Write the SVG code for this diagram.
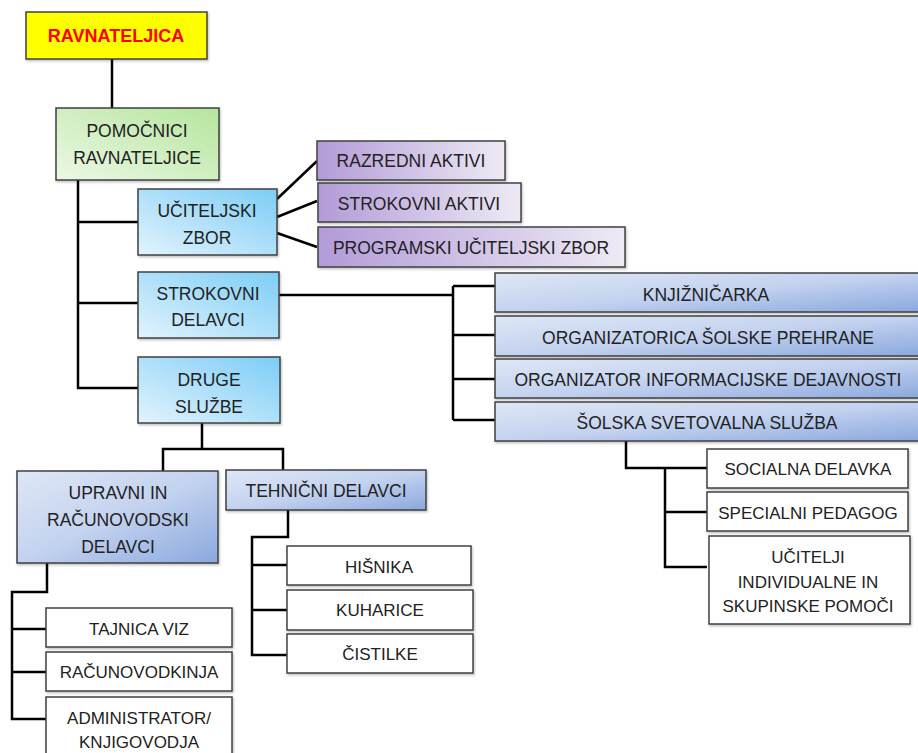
<svg xmlns="http://www.w3.org/2000/svg" width="918" height="753" viewBox="0 0 918 753">
<defs>
<linearGradient id="gGreen" x1="0" y1="1" x2="1" y2="0"><stop offset="0" stop-color="#ecf8e6"/><stop offset="1" stop-color="#b5e59c"/></linearGradient>
<linearGradient id="gSky" x1="0" y1="1" x2="1" y2="0"><stop offset="0" stop-color="#e2f3fd"/><stop offset="1" stop-color="#7ccdf6"/></linearGradient>
<linearGradient id="gPurple" x1="0" y1="0" x2="1" y2="0"><stop offset="0" stop-color="#b29bd8"/><stop offset="1" stop-color="#eeeaf4"/></linearGradient>
<linearGradient id="gBlue" x1="0" y1="0" x2="1" y2="1"><stop offset="0" stop-color="#dfe7f6"/><stop offset="0.5" stop-color="#c3d2ef"/><stop offset="1" stop-color="#8aa8de"/></linearGradient>
<filter id="sh" x="-5%" y="-5%" width="115%" height="125%"><feDropShadow dx="1" dy="1.5" stdDeviation="1" flood-color="#000" flood-opacity="0.25"/></filter>
</defs>
<style>
text{font-family:"Liberation Sans",Arial,sans-serif;font-size:17.5px;fill:#222;text-anchor:middle;dominant-baseline:central}
.s{font-size:17px}
.box{stroke:#404040;stroke-width:1.5;filter:url(#sh)}
.w{fill:#fff}
.c{fill:none;stroke:#000;stroke-width:2.5}
</style>
<rect width="918" height="753" fill="#fff"/>
<g id="connectors">
<path class="c" d="M112 59V108"/>
<path class="c" d="M78 180V388H138M78 222H138M78 303H138"/>
<path class="c" d="M277 199L317 161M277 217L317 201M277 233L317 247"/>
<path class="c" d="M279 295H453M453 286V420M453 286H495M453 335H495M453 379H495M453 420H495"/>
<path class="c" d="M626 441V468H707M665 468V567H707M665 512H707"/>
<path class="c" d="M202 423V449M163 471V449H283V470"/>
<path class="c" d="M47 563V592H12V719H46M12 629H46M12 672H46"/>
<path class="c" d="M288 510V537H252V655H287M252 565H287M252 610H287"/>
</g>
<g id="ravnateljica"><rect class="box" x="26" y="12" width="181" height="47" fill="#ffff00"/><text x="116" y="36" style="fill:#ff0000;font-weight:bold;font-size:18px">RAVNATELJICA</text></g>
<g id="pomocnici"><rect class="box" x="56" y="108" width="163" height="72" fill="url(#gGreen)"/><text x="137" y="131">POMOČNICI</text><text x="137" y="158">RAVNATELJICE</text></g>
<g id="uciteljski"><rect class="box" x="138" y="189" width="139" height="66" fill="url(#gSky)"/><text x="207" y="211">UČITELJSKI</text><text x="207" y="238">ZBOR</text></g>
<g id="razredni"><rect class="box" x="317" y="141" width="188" height="39" fill="url(#gPurple)"/><text x="411" y="161">RAZREDNI AKTIVI</text></g>
<g id="strokovni-aktivi"><rect class="box" x="318" y="183" width="203" height="39" fill="url(#gPurple)"/><text x="419" y="204">STROKOVNI AKTIVI</text></g>
<g id="programski"><rect class="box" x="318" y="227" width="307" height="40" fill="url(#gPurple)"/><text x="471" y="248">PROGRAMSKI UČITELJSKI ZBOR</text></g>
<g id="strokovni-delavci"><rect class="box" x="138" y="272" width="141" height="66" fill="url(#gSky)"/><text x="208" y="294">STROKOVNI</text><text x="208" y="320">DELAVCI</text></g>
<g id="druge"><rect class="box" x="138" y="357" width="142" height="66" fill="url(#gSky)"/><text x="209" y="380">DRUGE</text><text x="209" y="407">SLUŽBE</text></g>
<g id="knjiznicarka"><rect class="box" x="495" y="273" width="425" height="39" fill="url(#gBlue)"/><text x="706" y="295">KNJIŽNIČARKA</text></g>
<g id="organizatorica"><rect class="box" x="495" y="316" width="425" height="40" fill="url(#gBlue)"/><text x="708" y="338">ORGANIZATORICA ŠOLSKE PREHRANE</text></g>
<g id="organizator"><rect class="box" x="495" y="359" width="425" height="39" fill="url(#gBlue)"/><text x="708" y="380">ORGANIZATOR INFORMACIJSKE DEJAVNOSTI</text></g>
<g id="svetovalna"><rect class="box" x="495" y="402" width="425" height="39" fill="url(#gBlue)"/><text x="707" y="423">ŠOLSKA SVETOVALNA SLUŽBA</text></g>
<g id="socialna"><rect class="box w" x="707" y="449" width="201" height="39"/><text class="s" x="808" y="469">SOCIALNA DELAVKA</text></g>
<g id="specialni"><rect class="box w" x="707" y="492" width="201" height="39"/><text class="s" x="808" y="513">SPECIALNI PEDAGOG</text></g>
<g id="ucitelji"><rect class="box w" x="709" y="536" width="201" height="88"/><text class="s" x="808" y="557">UČITELJI</text><text class="s" x="808" y="582">INDIVIDUALNE IN</text><text class="s" x="808" y="606">SKUPINSKE POMOČI</text></g>
<g id="upravni"><rect class="box" x="17" y="471" width="201" height="92" fill="url(#gBlue)"/><text x="118" y="493">UPRAVNI IN</text><text x="118" y="520">RAČUNOVODSKI</text><text x="118" y="547">DELAVCI</text></g>
<g id="tehnicni"><rect class="box" x="226" y="470" width="200" height="40" fill="url(#gBlue)"/><text x="326" y="491">TEHNIČNI DELAVCI</text></g>
<g id="hisnika"><rect class="box w" x="287" y="546" width="184" height="39"/><text class="s" x="379" y="567">HIŠNIKA</text></g>
<g id="kuharice"><rect class="box w" x="287" y="590" width="186" height="40"/><text class="s" x="380" y="610">KUHARICE</text></g>
<g id="cistilke"><rect class="box w" x="287" y="634" width="186" height="39"/><text class="s" x="380" y="654">ČISTILKE</text></g>
<g id="tajnica"><rect class="box w" x="46" y="608" width="186" height="39"/><text class="s" x="139" y="629">TAJNICA VIZ</text></g>
<g id="racunovodkinja"><rect class="box w" x="46" y="652" width="186" height="39"/><text class="s" x="139" y="672">RAČUNOVODKINJA</text></g>
<g id="administrator"><rect class="box w" x="46" y="697" width="186" height="70"/><text class="s" x="139" y="718">ADMINISTRATOR/</text><text class="s" x="139" y="742">KNJIGOVODJA</text></g>
</svg>
